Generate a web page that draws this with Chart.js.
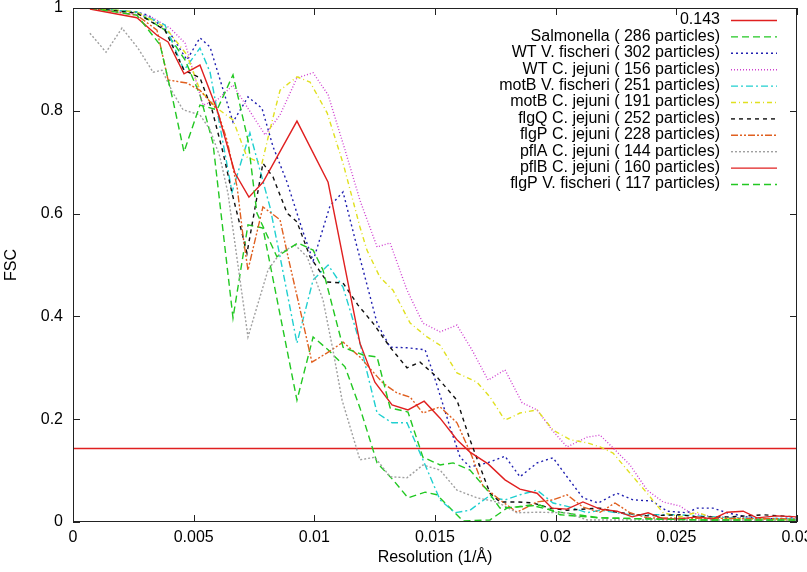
<!DOCTYPE html>
<html><head><meta charset="utf-8">
<script src="https://cdn.jsdelivr.net/npm/chart.js@4/dist/chart.umd.min.js"></script>
<style>html,body{margin:0;padding:0;background:#fff}</style>
</head><body>
<canvas id="c" width="807" height="572"></canvas>
<script>
// ---- tick values / labels ----
const xTickValues = [0, 0.005, 0.01, 0.015, 0.02, 0.025, 0.03];
const xTickLabels = ['0', '0.005', '0.01', '0.015', '0.02', '0.025', '0.03'];
const yTickValues = [0, 0.2, 0.4, 0.6, 0.8, 1];
const yTickLabels = ['0', '0.2', '0.4', '0.6', '0.8', '1'];

// ---- series ----
const seriesLabels = [
  '0.143',
  'Salmonella ( 286 particles)',
  'WT V. fischeri ( 302 particles)',
  'WT C. jejuni ( 156 particles)',
  'motB V. fischeri ( 251 particles)',
  'motB C. jejuni ( 191 particles)',
  'flgQ C. jejuni ( 252 particles)',
  'flgP C. jejuni ( 228 particles)',
  'pflA C. jejuni ( 144 particles)',
  'pflB C. jejuni ( 160 particles)',
  'flgP V. fischeri ( 117 particles)'
];

const thrX = [0, 0.03];
const thrY = [0.143, 0.143];

const salX = [0.0007,0.00265,0.00381,0.00464,0.00526,0.0058,0.00663,0.00725,0.00787,0.00928,0.00995,0.01057,0.01127,0.01189,0.0126,0.01326,0.01388,0.01459,0.01508,0.01616,0.01728,0.01798,0.01894,0.02018,0.02184,0.02598,0.03];
const salY = [1.0,0.992,0.957,0.899,0.831,0.737,0.397,0.578,0.572,0.237,0.360,0.335,0.302,0.222,0.115,0.082,0.047,0.058,0.053,0.002,0.004,0.027,0.033,0.019,0.008,0.004,0.004];

const wtvX = [0.0007,0.00265,0.00311,0.00402,0.00472,0.00526,0.00568,0.00663,0.00725,0.00783,0.00829,0.00887,0.00949,0.00995,0.01065,0.01119,0.01177,0.0126,0.01314,0.01384,0.01459,0.01492,0.01562,0.01604,0.01645,0.01716,0.0179,0.01852,0.01923,0.01989,0.02047,0.02113,0.02176,0.02254,0.02321,0.02399,0.02462,0.02544,0.02586,0.02652,0.0271,0.02793,0.02859,0.03];
const wtvY = [1.0,0.992,0.986,0.951,0.899,0.942,0.924,0.778,0.827,0.805,0.730,0.661,0.570,0.508,0.615,0.642,0.535,0.387,0.340,0.339,0.335,0.290,0.185,0.126,0.107,0.115,0.128,0.088,0.115,0.125,0.088,0.047,0.037,0.056,0.043,0.041,0.021,0.018,0.027,0.027,0.018,0.010,0.006,0.008];

const wtcX = [0.0007,0.00195,0.00319,0.00402,0.00464,0.00539,0.00597,0.00663,0.00796,0.00858,0.00928,0.00995,0.01057,0.01127,0.01189,0.0126,0.01314,0.01384,0.0145,0.01521,0.01591,0.01653,0.0172,0.0179,0.01861,0.01923,0.01985,0.02047,0.0213,0.02184,0.02238,0.02308,0.02379,0.02445,0.02515,0.02557,0.02652,0.02793,0.03];
const wtcY = [1.0,0.992,0.984,0.961,0.932,0.811,0.821,0.850,0.753,0.792,0.864,0.874,0.831,0.724,0.626,0.535,0.543,0.451,0.387,0.370,0.383,0.335,0.276,0.296,0.232,0.218,0.179,0.146,0.165,0.169,0.144,0.111,0.062,0.039,0.031,0.018,0.010,0.008,0.004];

const mbvX = [0.0007,0.00265,0.00381,0.0046,0.00526,0.00568,0.00659,0.00733,0.00816,0.00858,0.00928,0.00995,0.01057,0.01119,0.01189,0.0126,0.01322,0.01384,0.0145,0.01521,0.01583,0.01645,0.0172,0.0179,0.01852,0.01923,0.01989,0.0206,0.0213,0.02184,0.02308,0.02515,0.02723,0.03];
const mbvY = [1.0,0.992,0.967,0.879,0.922,0.875,0.642,0.757,0.613,0.516,0.348,0.471,0.500,0.457,0.348,0.212,0.193,0.193,0.121,0.043,0.018,0.023,0.049,0.043,0.053,0.062,0.037,0.029,0.018,0.023,0.014,0.014,0.008,0.006];

const mbcX = [0.0007,0.00265,0.00381,0.00472,0.00526,0.00597,0.00663,0.00721,0.00783,0.00816,0.00858,0.00928,0.00982,0.01053,0.01119,0.01189,0.01218,0.01272,0.01326,0.01397,0.01467,0.01521,0.01591,0.01674,0.01728,0.0179,0.01852,0.01923,0.01989,0.0206,0.0213,0.02184,0.02238,0.02308,0.02379,0.02445,0.02515,0.02586,0.02652,0.02793,0.03];
const mbcY = [1.0,0.992,0.963,0.909,0.840,0.805,0.782,0.710,0.698,0.763,0.840,0.866,0.856,0.796,0.698,0.574,0.529,0.476,0.451,0.387,0.360,0.344,0.290,0.272,0.243,0.198,0.212,0.218,0.179,0.160,0.154,0.146,0.134,0.095,0.056,0.018,0.010,0.019,0.008,0.006,0.004];

const fqcX = [0.0007,0.00265,0.00381,0.0046,0.00526,0.00576,0.00622,0.00659,0.00721,0.00787,0.00829,0.00887,0.00928,0.00982,0.01053,0.01119,0.01181,0.01243,0.01314,0.01384,0.01438,0.01508,0.01591,0.01645,0.01687,0.01728,0.01769,0.0184,0.01906,0.01977,0.02047,0.02184,0.02254,0.02379,0.02515,0.02586,0.02723,0.02859,0.03];
const fqcY = [1.0,0.990,0.957,0.879,0.864,0.802,0.718,0.640,0.523,0.698,0.671,0.601,0.584,0.516,0.467,0.465,0.422,0.387,0.340,0.300,0.311,0.282,0.237,0.160,0.107,0.056,0.039,0.039,0.037,0.027,0.023,0.027,0.019,0.012,0.014,0.010,0.010,0.014,0.010];

const fpcX = [0.0007,0.00265,0.00348,0.00394,0.00472,0.00526,0.00597,0.00638,0.0068,0.00704,0.00725,0.00787,0.00858,0.00891,0.00932,0.0099,0.01053,0.01119,0.01189,0.01285,0.01343,0.01397,0.0145,0.01521,0.01591,0.01653,0.01699,0.01769,0.0184,0.01923,0.01989,0.02047,0.02113,0.02184,0.02246,0.02308,0.02379,0.03];
const fpcY = [1.0,0.986,0.957,0.860,0.854,0.840,0.802,0.743,0.652,0.558,0.490,0.613,0.588,0.516,0.432,0.311,0.329,0.350,0.321,0.270,0.251,0.243,0.212,0.224,0.193,0.128,0.070,0.043,0.019,0.039,0.043,0.053,0.029,0.019,0.037,0.018,0.008,0.006];

const paX = [0.0007,0.00137,0.00203,0.00269,0.00332,0.00369,0.00414,0.00456,0.00526,0.00568,0.00609,0.00642,0.00725,0.00808,0.00858,0.0092,0.0097,0.01036,0.01077,0.01115,0.01189,0.01251,0.01314,0.01384,0.0145,0.01521,0.01591,0.01674,0.01757,0.0184,0.01923,0.02047,0.0213,0.02391,0.03];
const paY = [0.951,0.914,0.961,0.922,0.875,0.879,0.835,0.802,0.792,0.763,0.710,0.640,0.360,0.490,0.523,0.539,0.516,0.432,0.335,0.237,0.121,0.126,0.088,0.086,0.111,0.101,0.062,0.047,0.039,0.018,0.019,0.018,0.004,0.004,0.004];

const pbX = [0.0007,0.00265,0.00348,0.00394,0.0046,0.00526,0.00597,0.00671,0.00729,0.00787,0.00928,0.01057,0.01189,0.01251,0.01322,0.01388,0.01455,0.01521,0.01591,0.01645,0.0172,0.0179,0.01852,0.01923,0.01985,0.02047,0.02113,0.02184,0.02254,0.02317,0.02383,0.02445,0.02515,0.02586,0.02652,0.0271,0.02777,0.02834,0.02917,0.03];
const pbY = [0.998,0.981,0.947,0.934,0.872,0.889,0.802,0.679,0.632,0.661,0.780,0.661,0.348,0.272,0.228,0.218,0.235,0.202,0.160,0.136,0.113,0.082,0.064,0.056,0.027,0.025,0.039,0.025,0.021,0.010,0.018,0.006,0.006,0.010,0.006,0.019,0.021,0.008,0.012,0.010];

const fpvX = [0.0007,0.00265,0.00361,0.00414,0.0046,0.00526,0.00597,0.00663,0.00725,0.00762,0.00845,0.00932,0.00995,0.01036,0.01119,0.01202,0.0126,0.01314,0.01388,0.0145,0.01521,0.01575,0.01645,0.01716,0.01769,0.0184,0.01935,0.02018,0.02184,0.02391,0.02598,0.03];
const fpvY = [1.0,0.986,0.928,0.821,0.720,0.811,0.802,0.870,0.743,0.601,0.516,0.543,0.529,0.490,0.340,0.325,0.321,0.222,0.214,0.126,0.111,0.115,0.101,0.062,0.027,0.029,0.033,0.014,0.008,0.006,0.004,0.004];

// ---- styles ----
const colors = ['#e02020','#22c822','#2020b0','#d040d0','#20d0d0','#e0e020','#101010','#e06020','#a0a0a0','#e02020','#22c822'];
const dashes = [[],[7,4],[2,3],[1,2],[7,3,2,3],[5,3,1,3],[4,4],[7,2,2,2,2,2],[2,2],[],[7,4]];

const xsList = [thrX,salX,wtvX,wtcX,mbvX,mbcX,fqcX,fpcX,paX,pbX,fpvX];
const ysList = [thrY,salY,wtvY,wtcY,mbvY,mbcY,fqcY,fpcY,paY,pbY,fpvY];

const FONT = '"Liberation Sans", Arial, Helvetica, sans-serif';
const FS = 16;

const datasets = seriesLabels.map((lab, i) => ({
  label: lab,
  data: xsList[i].map((x, k) => ({x: x, y: ysList[i][k]})),
  borderColor: colors[i],
  backgroundColor: colors[i],
  borderDash: dashes[i],
  borderWidth: 1.4,
  pointRadius: 0,
  showLine: true,
  fill: false,
  tension: 0,
  order: 20 - i
}));

function drawFrame(chart) {
  const ctx = chart.ctx;
  const xs = chart.scales.x, ys = chart.scales.y;
  const left = Math.round(xs.getPixelForValue(0));
  const right = Math.round(xs.getPixelForValue(0.03));
  const top = Math.round(ys.getPixelForValue(1));
  const bottom = Math.round(ys.getPixelForValue(0));
  ctx.save();
  ctx.globalAlpha = 1;
  ctx.globalCompositeOperation = 'source-over';
  ctx.fillStyle = '#222222';
  ctx.fillRect(left, top, right - left, 1);
  ctx.fillRect(left, bottom - 1, right - left, 1);
  ctx.fillRect(left, top, 1, bottom - top);
  ctx.fillRect(right - 1, top, 1, bottom - top);
  const L = 7;
  for (const v of xTickValues) {
    const p = Math.round(xs.getPixelForValue(v));
    ctx.fillRect(p, bottom - L, 1, L);
    ctx.fillRect(p, top, 1, L);
  }
  for (const v of yTickValues) {
    const p = Math.round(ys.getPixelForValue(v));
    ctx.fillRect(left, p, L, 1);
    ctx.fillRect(right - L, p, L, 1);
  }
  ctx.restore();
}

function drawLegend(chart) {
  const ctx = chart.ctx;
  ctx.save();
  ctx.font = FS + 'px ' + FONT;
  ctx.textAlign = 'right';
  ctx.textBaseline = 'middle';
  chart.data.datasets.forEach((ds, i) => {
    const y = 20 + i * 16.4;
    ctx.fillStyle = '#000';
    ctx.fillText(ds.label, 720, y);
    ctx.strokeStyle = ds.borderColor;
    ctx.lineWidth = ds.borderWidth;
    ctx.setLineDash(ds.borderDash);
    ctx.beginPath();
    ctx.moveTo(731, y + 0.5); ctx.lineTo(777, y + 0.5);
    ctx.stroke();
  });
  ctx.restore();
}

const gnuPlugin = {
  id: 'gnuDecor',
  afterDraw(chart) {
    drawLegend(chart);
    drawFrame(chart);
  }
};

new Chart(document.getElementById('c'), {
  type: 'scatter',
  data: { datasets: datasets },
  options: {
    responsive: false,
    animation: false,
    devicePixelRatio: 1,
    layout: { padding: { top: 8, right: 10, left: 0, bottom: 0 } },
    plugins: { legend: { display: false }, tooltip: { enabled: false } },
    scales: {
      x: {
        type: 'linear', min: 0, max: 0.03,
        grid: { display: false, drawTicks: false },
        border: { display: false },
        afterBuildTicks: s => { s.ticks = xTickValues.map(v => ({ value: v })); },
        afterFit: s => { s.height = 50; s.paddingLeft = 0; s.paddingRight = 0; },
        ticks: {
          color: '#000', padding: 6, maxRotation: 0, autoSkip: false,
          font: { family: FONT, size: FS },
          callback: (v, i) => xTickLabels[i]
        },
        title: { display: true, text: 'Resolution (1/Å)', color: '#000',
          font: { family: FONT, size: FS }, padding: { top: 0, bottom: 5 } }
      },
      y: {
        type: 'linear', min: 0, max: 1,
        grid: { display: false, drawTicks: false },
        border: { display: false },
        afterBuildTicks: s => { s.ticks = yTickValues.map(v => ({ value: v })); },
        afterFit: s => { s.width = 73; s.paddingTop = 0; s.paddingBottom = 0; },
        ticks: {
          color: '#000', padding: 10, autoSkip: false,
          font: { family: FONT, size: FS },
          callback: (v, i) => yTickLabels[i]
        },
        title: { display: true, text: 'FSC', color: '#000',
          font: { family: FONT, size: FS }, padding: { top: 2, bottom: 0 } }
      }
    }
  },
  plugins: [gnuPlugin]
});
</script>
</body></html>
